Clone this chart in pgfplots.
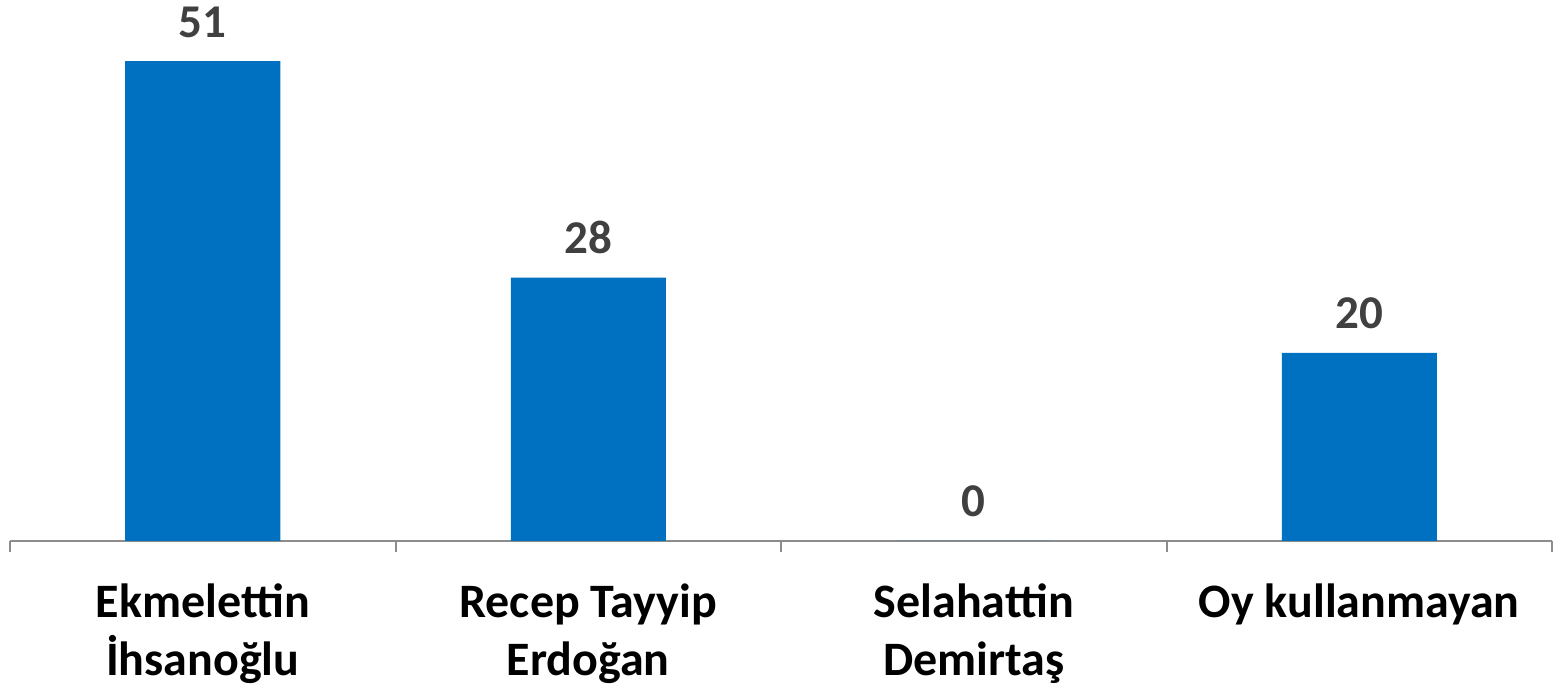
\documentclass[border=0pt]{standalone}
\usepackage{pgfplots}
\pgfplotsset{compat=1.18}
\usepackage{fontspec}
\setmainfont{Carlito}
\definecolor{barblue}{HTML}{0070C0}
\definecolor{numgray}{HTML}{404040}
\definecolor{axgray}{HTML}{8C8C8C}
\begin{document}
\begin{tikzpicture}
\begin{axis}[
  scale only axis, width=771pt, height=270.5pt,
  ybar, bar width=77.5pt,
  xmin=-0.5, xmax=3.5, ymin=0, ymax=57.5,
  axis x line*=bottom, axis y line=none,
  axis line style={draw=axgray, line width=1pt},
  xtick={0,1,2,3},
  xticklabels={{Ekmelettin\\İhsanoğlu},{Recep Tayyip\\Erdoğan},{Selahattin\\Demirtaş},{Oy kullanmayan}},
  major tick length=0pt,
  minor xtick={-0.5,0.5,1.5,2.5,3.5},
  minor tick length=5.5pt, tick align=outside,
  minor tick style={draw=axgray, line width=1pt},
  xticklabel style={align=center, anchor=north, inner sep=0pt, yshift=-21pt,
    font=\fontsize{24}{29}\selectfont\bfseries, text=black},
  nodes near coords,
  /pgf/number format/assume math mode=true,
  every node near coord/.append style={anchor=base, yshift=12pt,
    font=\fontsize{23.5}{28}\selectfont\bfseries, text=numgray},
  clip=false,
]
\addplot[fill=barblue, draw=none] coordinates {(0,51) (1,28) (2,0) (3,20)};
\coordinate (bl) at (rel axis cs:0,0);
\end{axis}
\pgfresetboundingbox
\path (bl) ++(-5pt,-74pt) rectangle ++(776.5pt,344.5pt);
\end{tikzpicture}
\end{document}
